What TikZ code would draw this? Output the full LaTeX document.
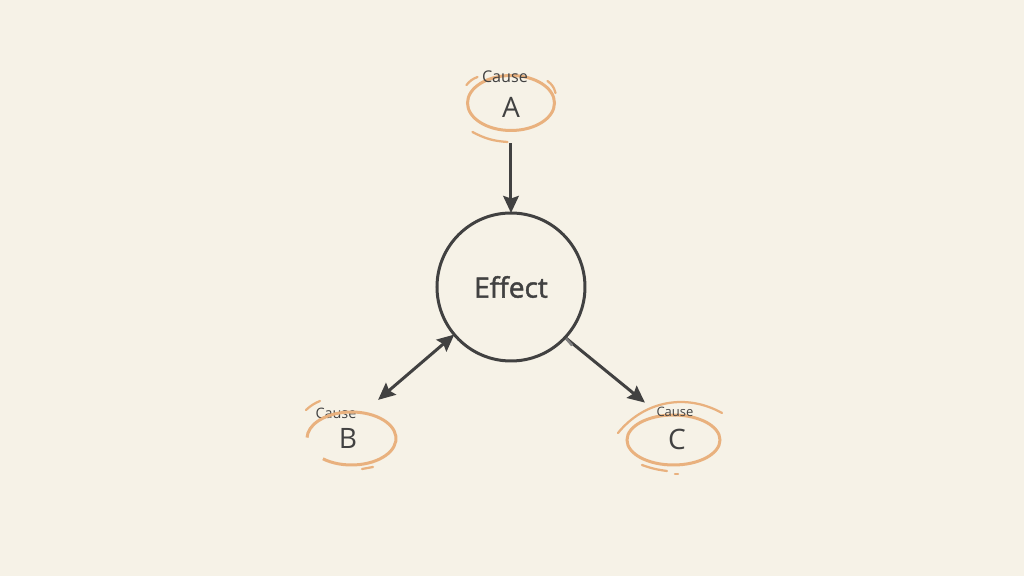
\documentclass[tikz,border=0pt]{standalone}
\usepackage{fontspec}
\setmainfont{Open Sans}
\newfontfamily\effectfont[FakeBold=1.5]{Open Sans}
\usetikzlibrary{arrows.meta,positioning,shapes.geometric}
\definecolor{paper}{HTML}{F6F2E7}
\definecolor{ink}{HTML}{414141}
\definecolor{ringline}{HTML}{E9B17E}
\tikzset{
  tip/.tip={Stealth[length=.34cm,width=.31cm,inset=.05cm]},
  flow/.style={line width=.06cm,draw=ink,-tip},
  ring/.style={ellipse,line width=.06cm,draw=ringline,inner sep=0pt,outer sep=0pt},
  fleck/.style={line width=.045cm,draw=ringline,line cap=round},
  letter/.style={text=ink,font=\fontsize{16}{16}\selectfont,inner sep=0pt},
  causetext/.style={text=ink,inner sep=0pt}
}
\begin{document}
\begin{tikzpicture}[on grid,auto]
	\useasboundingbox[fill=paper] (-10.22,-5.78) rectangle (10.26,5.74);
	\node[circle,draw=ink,line width=.06cm,minimum size=2.96cm,inner sep=0pt,outer sep=0pt,text=ink,font=\effectfont\fontsize{16}{16}\selectfont] (effect) {Effect};
	\node[ring,minimum width=1.74cm,minimum height=1.1cm] (causeA) [above=3.68cm of effect] {};
	\node[ellipse,minimum width=1.78cm,minimum height=1.06cm,inner sep=0pt,outer sep=0pt] (causeB) [below left=3.03cm and 3.19cm of effect] {};
	\node[ring,minimum width=1.86cm,minimum height=1cm] (causeC) [below right=3.06cm and 3.25cm of effect] {};
	% letters and small labels
	\node[letter] (letterA) at ([yshift=-.08cm]causeA.center) {A};
	\node[letter] (letterB) at ([xshift=-.07cm]causeB.center) {B};
	\node[letter] (letterC) at ([shift={(.07cm,.02cm)}]causeC.center) {C};
	\node[causetext,font=\fontsize{9.2}{10}\selectfont] (textA) at ([shift={(-.12cm,.53cm)}]causeA.center) {Cause};
	\node[causetext,font=\fontsize{8.2}{10}\selectfont] (textB) at ([shift={(-.31cm,.51cm)}]causeB.center) {Cause};
	\node[causetext,font=\fontsize{7.4}{10}\selectfont] (textC) at ([shift={(.03cm,.56cm)}]causeC.center) {Cause};
	% open ring of B
	\draw[ringline,line width=.06cm] ([shift={(-130:.89cm and .53cm)}]causeB.center) arc[start angle=-130,end angle=178,x radius=.89cm,y radius=.53cm];
	% loose strokes round the rings
	\draw[fleck] ([shift={(-.89cm,.36cm)}]causeA.center) to[bend left=15] ([shift={(-.67cm,.52cm)}]causeA.center);
	\draw[fleck] ([shift={(.73cm,.44cm)}]causeA.center) to[bend left=20] ([shift={(.89cm,.2cm)}]causeA.center);
	\draw[fleck] ([shift={(-.77cm,-.58cm)}]causeA.center) to[bend right=12] ([shift={(-.07cm,-.78cm)}]causeA.center);
	\draw[fleck] ([shift={(-.91cm,.57cm)}]causeB.center) to[bend left=10] ([shift={(-.63cm,.75cm)}]causeB.center);
	\draw[fleck] ([shift={(.21cm,-.61cm)}]causeB.center) -- ([shift={(.43cm,-.57cm)}]causeB.center);
	\draw[fleck] ([shift={(-1.11cm,.14cm)}]causeC.center) to[bend left=40] ([shift={(.97cm,.54cm)}]causeC.center);
	\draw[fleck] ([shift={(-.63cm,-.5cm)}]causeC.center) to[bend right=6] ([shift={(-.13cm,-.62cm)}]causeC.center);
	\draw[fleck] ([shift={(.03cm,-.68cm)}]causeC.center) -- ([shift={(.09cm,-.68cm)}]causeC.center);
	% connectors
	\path
		(causeA.south) edge[flow,shorten <=.26cm] (effect.north)
		(effect.220) edge[flow,tip-tip,shorten >=.4cm] (causeB.66)
		(effect.-43) edge[flow,shorten >=.42cm] (causeC.117);
	\draw[gray,line width=.05cm] ([shift={(.02cm,-.02cm)}]effect.-43) -- ([shift={(.14cm,-.16cm)}]effect.-43);
\end{tikzpicture}
\end{document}
